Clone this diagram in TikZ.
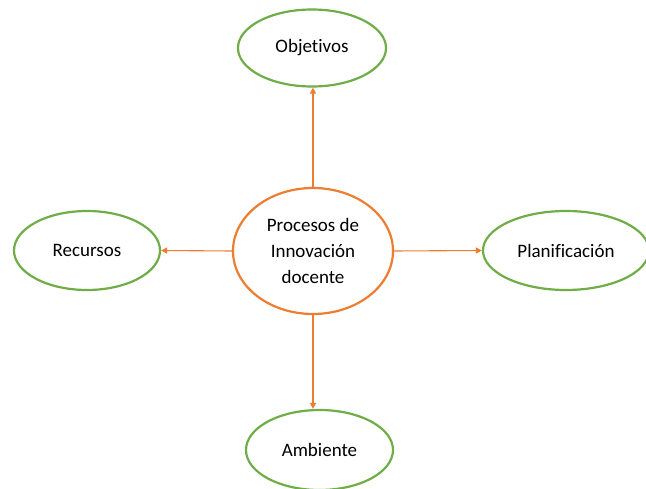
\documentclass[tikz,border=0pt]{standalone}
\usepackage{fontspec}
\setmainfont{Carlito}[Ligatures={NoCommon}]
\usetikzlibrary{shapes.geometric,arrows.meta}
\definecolor{orng}{HTML}{ED7D31}
\definecolor{grn}{HTML}{70AD47}
\tikzset{
  green ell/.style={ellipse, draw=grn, line width=2.2pt, inner sep=0pt, font=\fontsize{19}{26}\selectfont, align=center},
  orange ell/.style={ellipse, draw=orng, line width=2.2pt, inner sep=0pt, font=\fontsize{19}{26}\selectfont, align=center},
  link/.style={draw=orng, line width=1.1pt, -{Triangle[length=6pt,width=6pt]}}
}
\begin{document}
\begin{tikzpicture}[x=1pt,y=-1pt]
\useasboundingbox (0,0) rectangle (646,489);
\clip (0,0) rectangle (646,489);
\fill[white] (0,0) rectangle (646,489);
\node[orange ell, minimum width=160pt, minimum height=126pt] (c) at (313,251) {Procesos de\\Innovación\\docente};
\node[green ell, minimum width=148pt, minimum height=77pt] (o) at (312,48) {Objetivos};
\node[green ell, minimum width=146pt, minimum height=79pt] (r) at (87,250.5) {Recursos};
\node[green ell, minimum width=166pt, minimum height=79pt] (p) at (566,250.5) {Planificación};
\node[green ell, minimum width=147pt, minimum height=80pt] (a) at (319.5,450) {Ambiente};
\draw[link] (c.north) -- (c.north |- o.south);
\draw[link] (c.west) -- (r.east);
\draw[link] (c.east) -- (p.west);
\draw[link] (c.south) -- (c.south |- a.north);
\end{tikzpicture}
\end{document}
